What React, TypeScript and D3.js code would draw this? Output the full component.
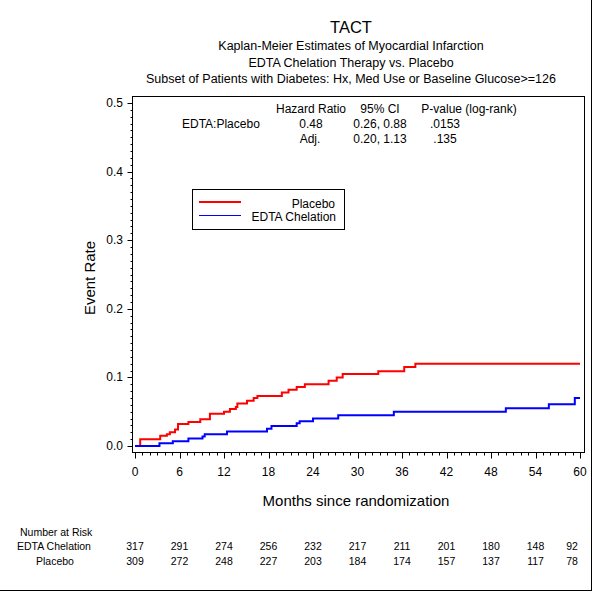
import React from 'react';
import * as d3 from 'd3';

// Kaplan-Meier step points (months, cumulative event rate)
const placeboMonths = [0, 0.7, 3.4, 4.3, 4.7, 5.4, 5.8, 7.2, 8.8, 10.1, 12.0, 12.8, 13.6, 13.8, 15.1, 16.0, 16.5, 19.8, 20.7, 21.8, 22.9, 26.1, 27.2, 28.0, 32.8, 36.3, 37.8, 60];
const placeboRates = [0, 0.010, 0.015, 0.017, 0.020, 0.024, 0.032, 0.035, 0.039, 0.047, 0.050, 0.054, 0.057, 0.062, 0.066, 0.070, 0.073, 0.078, 0.082, 0.086, 0.090, 0.095, 0.100, 0.105, 0.109, 0.115, 0.120, 0.120];

const edtaMonths = [0, 3.3, 5.1, 7.2, 9.1, 9.4, 12.4, 17.8, 18.4, 21.8, 22.2, 24.0, 27.4, 34.9, 50.0, 55.8, 59.3, 60];
const edtaRates = [0, 0.004, 0.007, 0.011, 0.014, 0.017, 0.021, 0.025, 0.029, 0.033, 0.036, 0.040, 0.045, 0.050, 0.055, 0.061, 0.070, 0.070];

// number at risk table
const riskMonths = [0, 6, 12, 18, 24, 30, 36, 42, 48, 54, 60];
const riskEdta = [317, 291, 274, 256, 232, 217, 211, 201, 180, 148, 92];
const riskPlacebo = [309, 272, 248, 227, 203, 184, 174, 157, 137, 117, 78];

const xTicks = [0, 6, 12, 18, 24, 30, 36, 42, 48, 54, 60];
const yTicks = [0, 0.1, 0.2, 0.3, 0.4, 0.5];

const titleLines = [
  'Kaplan-Meier Estimates of Myocardial Infarction',
  'EDTA Chelation Therapy vs. Placebo',
  'Subset of Patients with Diabetes: Hx, Med Use or Baseline Glucose>=126',
];

const FONT = 'Arial, "Liberation Sans", sans-serif';

const App = () => {
  const frame = { left: 132.5, right: 584.5, top: 96.5, bottom: 452.5 };

  const x = d3.scaleLinear().domain([0, 60]).range([135, 580]);
  const y = d3.scaleLinear().domain([0, 0.5]).range([446, 103]);

  const line = d3.line<[number, number]>()
    .x(d => x(d[0]))
    .y(d => y(d[1]))
    .curve(d3.curveStepAfter);

  const placeboPts = placeboMonths.map((m, i) => [m, placeboRates[i]] as [number, number]);
  const edtaPts = edtaMonths.map((m, i) => [m, edtaRates[i]] as [number, number]);

  const xMinor = d3.range(0, 61, 1);
  const yMinor = d3.range(0, 51, 1).map(d => d / 100);
  const fmt = d3.format('.1f');
  const titleX = 351;

  return (
    <svg width={600} height={600} style={{ position: 'absolute', left: 0, top: 0, background: '#fff' }}
      fontFamily={FONT}>
      <rect x={0} y={0} width={600} height={600} fill="#fff" />

      {/* titles */}
      <text x={titleX} y={33} textAnchor="middle" fontSize={16.5}>TACT</text>
      {titleLines.map((t, i) => (
        <text key={t} x={titleX} y={50 + i * 16.7} textAnchor="middle" fontSize={12.5}>{t}</text>
      ))}

      {/* plot frame */}
      <rect x={frame.left} y={frame.top} width={frame.right - frame.left} height={frame.bottom - frame.top}
        fill="none" stroke="#000" strokeWidth={1} />

      {/* y axis ticks */}
      {yMinor.map(v => (
        <line key={'ym' + v} x1={frame.left - 2} x2={frame.left} y1={Math.round(y(v)) + 0.5} y2={Math.round(y(v)) + 0.5}
          stroke="#000" strokeWidth={1} />
      ))}
      {yTicks.map(v => (
        <g key={'yt' + v}>
          <line x1={frame.left - 5} x2={frame.left} y1={Math.round(y(v)) + 0.5} y2={Math.round(y(v)) + 0.5} stroke="#000" />
          <text x={123} y={y(v) + 4} textAnchor="end" fontSize={12}>{fmt(v)}</text>
        </g>
      ))}

      {/* x axis ticks */}
      {xMinor.map(m => (
        <line key={'xm' + m} x1={Math.round(x(m)) + 0.5} x2={Math.round(x(m)) + 0.5} y1={frame.bottom} y2={frame.bottom + 3}
          stroke="#000" />
      ))}
      {xTicks.map(m => (
        <g key={'xt' + m}>
          <line x1={Math.round(x(m)) + 0.5} x2={Math.round(x(m)) + 0.5} y1={frame.bottom} y2={frame.bottom + 6} stroke="#000" />
          <text x={x(m)} y={476} textAnchor="middle" fontSize={12}>{m}</text>
        </g>
      ))}

      {/* axis labels */}
      <text x={356} y={506} textAnchor="middle" fontSize={15}>Months since randomization</text>
      <text transform={`translate(95,278) rotate(-90)`} textAnchor="middle" fontSize={15}>Event Rate</text>

      {/* curves */}
      <path d={line(placeboPts) || ''} fill="none" stroke="#ff0000" strokeWidth={2} />
      <path d={line(edtaPts) || ''} fill="none" stroke="#0000ff" strokeWidth={2} />

      {/* hazard ratio table */}
      <g fontSize={12}>
        <text x={311} y={113} textAnchor="middle">Hazard Ratio</text>
        <text x={380} y={113} textAnchor="middle">95% CI</text>
        <text x={469} y={113} textAnchor="middle">P-value (log-rank)</text>
        <text x={182} y={128}>EDTA:Placebo</text>
        <text x={311} y={128} textAnchor="middle">0.48</text>
        <text x={380} y={128} textAnchor="middle">0.26, 0.88</text>
        <text x={445} y={128} textAnchor="middle">.0153</text>
        <text x={310} y={143} textAnchor="middle">Adj.</text>
        <text x={380} y={143} textAnchor="middle">0.20, 1.13</text>
        <text x={445} y={143} textAnchor="middle">.135</text>
      </g>

      {/* legend */}
      <rect x={192.5} y={189.5} width={152} height={40} fill="#fff" stroke="#000" />
      <line x1={199} x2={241} y1={202} y2={202} stroke="#ff0000" strokeWidth={2} />
      <text x={335} y={208} textAnchor="end" fontSize={12}>Placebo</text>
      <line x1={199} x2={241} y1={215.5} y2={215.5} stroke="#0000ff" strokeWidth={1} />
      <text x={336} y={221} textAnchor="end" fontSize={12}>EDTA Chelation</text>

      {/* number at risk */}
      <g fontSize={10.5}>
        <text x={20} y={536}>Number at Risk</text>
        <text x={17} y={550}>EDTA Chelation</text>
        <text x={55} y={565} textAnchor="middle">Placebo</text>
        {riskMonths.map((m, i) => (
          <g key={'r' + m}>
            <text x={Math.min(x(m), 572)} y={550} textAnchor="middle">{riskEdta[i]}</text>
            <text x={Math.min(x(m), 572)} y={565} textAnchor="middle">{riskPlacebo[i]}</text>
          </g>
        ))}
      </g>

      {/* outer border */}
      <line x1={591.5} x2={591.5} y1={0} y2={591} stroke="#000" />
      <line x1={0} x2={592} y1={590.5} y2={590.5} stroke="#000" />
    </svg>
  );
};

export default App;
